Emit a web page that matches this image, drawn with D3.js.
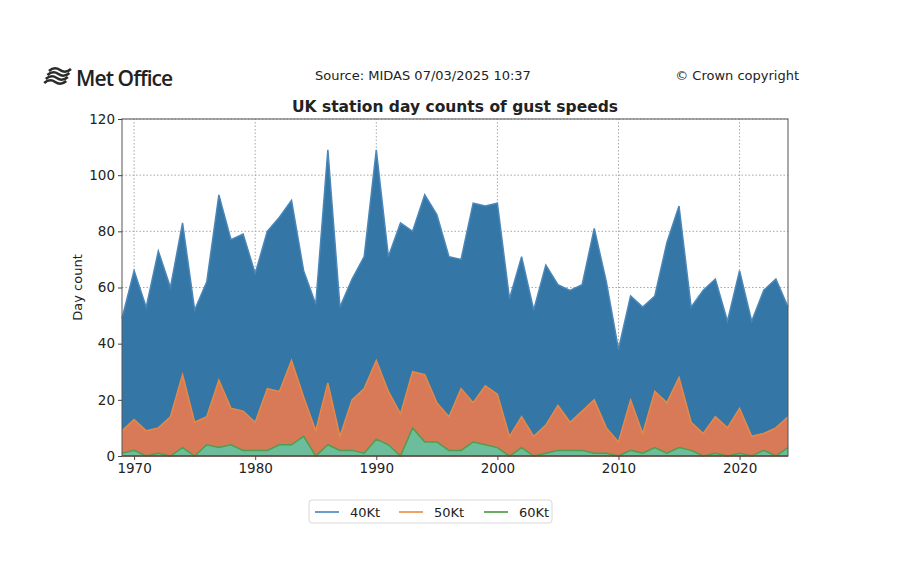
<!DOCTYPE html>
<html>
<head>
<meta charset="utf-8">
<title>UK station day counts of gust speeds</title>
<script src="https://cdn.jsdelivr.net/npm/d3@7"></script>
<style>
  body { margin: 0; background: #fff; }
  text { font-family: "DejaVu Sans", sans-serif; fill: #222; }
  .grid line { stroke: #a8a8a8; stroke-dasharray: 1.5 2; stroke-width: 1; }
</style>
</head>
<body>
<script>
// years and counts
var years = d3.range(1969, 2025);
var kt40 = [49, 66, 53, 73, 60, 83, 52, 62, 93, 77, 79, 65, 80, 85, 91, 66, 54, 109, 53,
            63, 71, 109, 71, 83, 80, 93, 86, 71, 70, 90, 89, 90, 56, 71, 52, 68, 61, 59, 61,
            81, 62, 38, 57, 53, 57, 76, 89, 53, 59, 63, 48, 66, 48, 59, 63, 53];
var kt50 = [9, 13, 9, 10, 14, 29, 12, 14, 27, 17, 16, 12, 24, 23, 34, 21, 9, 26, 7,
            20, 24, 34, 23, 15, 30, 29, 19, 14, 24, 19, 25, 22, 7, 14, 7, 11, 18, 12, 16,
            20, 10, 5, 20, 8, 23, 19, 28, 12, 8, 14, 10, 17, 7, 8, 10, 14];
var kt60 = [1, 2, 0, 1, 0, 3, 0, 4, 3, 4, 2, 2, 2, 4, 4, 7, 0, 4, 2,
            2, 1, 6, 4, 0, 10, 5, 5, 2, 2, 5, 4, 3, 0, 3, 0, 1, 2, 2, 2,
            1, 1, 0, 2, 1, 3, 1, 3, 2, 0, 1, 0, 1, 0, 2, 0, 3];
var xTicks = [1970, 1980, 1990, 2000, 2010, 2020];
var yTicks = [0, 20, 40, 60, 80, 100, 120];
var seriesNames = ["40Kt", "50Kt", "60Kt"];

var W = 909, H = 565;
var margin = {left: 122, right: 909 - 788, top: 119, bottom: 565 - 456};

var svg = d3.select("body").append("svg")
  .attr("width", W).attr("height", H);

var x = d3.scaleLinear().domain([1969, 2024]).range([margin.left, W - margin.right]);
var y = d3.scaleLinear().domain([0, 120]).range([H - margin.bottom, margin.top]);

// gridlines
var grid = svg.append("g").attr("class", "grid");
grid.selectAll(".gx").data(xTicks).enter().append("line")
  .attr("x1", function(d){ return x(d); }).attr("x2", function(d){ return x(d); })
  .attr("y1", y(0)).attr("y2", y(120));
grid.selectAll(".gy").data(yTicks).enter().append("line")
  .attr("x1", x(1969)).attr("x2", x(2024))
  .attr("y1", function(d){ return y(d); }).attr("y2", function(d){ return y(d); });

// filled areas, one over the other
var series = [
  {vals: kt40, fill: "#3476a6", line: "#4a86b8", key: "#6b9dcc"},
  {vals: kt50, fill: "#d87a58", line: "#e58a45", key: "#eea264"},
  {vals: kt60, fill: "#6cbd9c", line: "#4f9e4f", key: "#6aae62"}
];

var area = d3.area()
  .x(function(d, i){ return x(years[i]); })
  .y0(y(0))
  .y1(function(d){ return y(d); });
var line = d3.line()
  .x(function(d, i){ return x(years[i]); })
  .y(function(d){ return y(d); });

series.forEach(function(s){
  svg.append("path").datum(s.vals)
    .attr("d", area).attr("fill", s.fill);
  svg.append("path").datum(s.vals)
    .attr("d", line).attr("fill", "none")
    .attr("stroke", s.line).attr("stroke-width", 1.5);
});

// baseline (zero series)
svg.append("line")
  .attr("x1", x(1969)).attr("x2", x(2024))
  .attr("y1", y(0)).attr("y2", y(0))
  .attr("stroke", "#8c3b2c").attr("stroke-width", 1.5);

// frame
svg.append("rect")
  .attr("x", x(1969)).attr("y", y(120))
  .attr("width", x(2024) - x(1969)).attr("height", y(0) - y(120))
  .attr("fill", "none").attr("stroke", "#555").attr("stroke-width", 1);

// axes
var xAxis = svg.append("g")
  .attr("transform", "translate(0," + y(0) + ")")
  .call(d3.axisBottom(x).tickValues(xTicks).tickFormat(d3.format("d")).tickSize(4));
var yAxis = svg.append("g")
  .attr("transform", "translate(" + x(1969) + ",0)")
  .call(d3.axisLeft(y).tickValues(yTicks).tickSize(4));
[xAxis, yAxis].forEach(function(a){
  a.select(".domain").remove();
  a.selectAll("line").attr("stroke", "#444");
  a.selectAll("text").style("font-size", "13.5px").attr("fill", "#222");
});

svg.append("text")
  .attr("transform", "translate(82," + ((y(0) + y(120)) / 2) + ") rotate(-90)")
  .attr("text-anchor", "middle")
  .style("font-size", "13px")
  .text("Day count");

// title and header
svg.append("text")
  .attr("x", (x(1969) + x(2024)) / 2).attr("y", 112)
  .attr("text-anchor", "middle")
  .style("font-size", "15.5px").style("font-weight", "bold")
  .text("UK station day counts of gust speeds");

svg.append("text")
  .attr("x", 423).attr("y", 80)
  .attr("text-anchor", "middle")
  .style("font-size", "13px")
  .text("Source: MIDAS 07/03/2025 10:37");

svg.append("text")
  .attr("x", 799).attr("y", 80)
  .attr("text-anchor", "end")
  .style("font-size", "13px")
  .text("\u00a9 Crown copyright");

// Met Office logo: slanted wavy stripes + name
var logo = svg.append("g").attr("transform", "translate(43,71)");
[0, 4, 8, 12].forEach(function(o){
  logo.append("path")
    .attr("d", "M" + (6 - o * 0.4) + "," + o + " q5.5,-5 11,-1 q5.5,4 11,-1")
    .attr("fill", "none").attr("stroke", "#2b2b2b").attr("stroke-width", 2.6);
});
svg.append("text")
  .attr("x", 76).attr("y", 86)
  .style("font-family", "'Open Sans', sans-serif")
  .style("font-size", "21px").style("font-weight", "600").style("letter-spacing", "-0.9px")
  .attr("fill", "#222")
  .text("Met Office");

// legend
var lg = svg.append("g").attr("transform", "translate(309,500)");
lg.append("rect").attr("width", 243).attr("height", 23).attr("rx", 3)
  .attr("fill", "#fff").attr("stroke", "#d8d8d8");
var legendX = [6, 90, 175];
seriesNames.forEach(function(n, i){
  lg.append("line")
    .attr("x1", legendX[i]).attr("x2", legendX[i] + 24)
    .attr("y1", 12).attr("y2", 12)
    .attr("stroke", series[i].key).attr("stroke-width", 2);
  lg.append("text")
    .attr("x", legendX[i] + 35).attr("y", 17)
    .style("font-size", "13px")
    .text(n);
});
</script>
</body>
</html>
